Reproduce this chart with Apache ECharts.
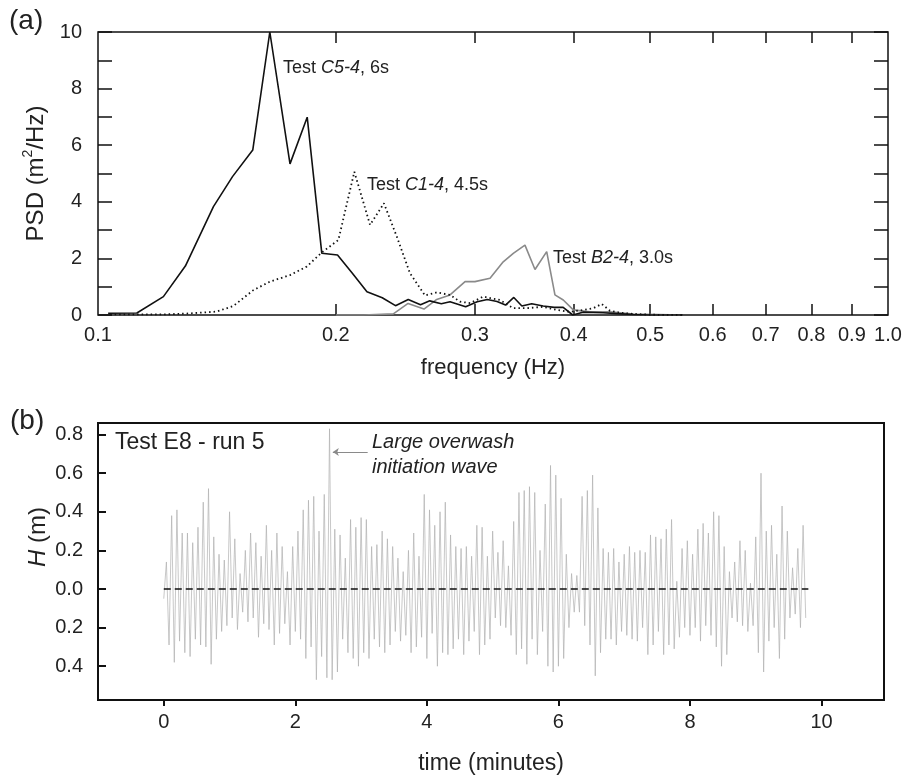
<!DOCTYPE html>
<html>
<head>
<meta charset="utf-8">
<script src="https://cdn.jsdelivr.net/npm/echarts@6/dist/echarts.min.js"></script>
<style>
html,body{margin:0;padding:0;background:#fff;}
#chart{width:909px;height:780px;}
</style>
</head>
<body>
<div id="chart"></div>
<script>
// ---------- Panel (a): power spectral density ----------
const c54Freq = [0.103,0.112,0.121,0.129,0.140,0.148,0.157,0.165,0.175,0.184,0.192,0.201,0.210,0.219,0.229,0.238,0.247,0.256,0.263,0.272,0.279,0.292,0.302,0.311,0.320,0.328,0.336,0.344,0.354,0.366,0.378,0.388,0.399,0.411,0.436,0.454,0.476,0.500,0.550];
const c54Psd  = [0.06,0.07,0.65,1.73,3.83,4.89,5.83,10.0,5.34,6.99,2.18,2.12,1.47,0.82,0.61,0.33,0.55,0.36,0.50,0.40,0.47,0.29,0.47,0.55,0.48,0.35,0.62,0.32,0.40,0.32,0.27,0.27,0.0,0.10,0.08,0.05,0.02,0.0,0.0];

const c14Freq = [0.1036,0.113,0.1208,0.1295,0.1413,0.1484,0.1573,0.1651,0.1750,0.1837,0.1920,0.2015,0.2111,0.2210,0.2301,0.2389,0.2483,0.2594,0.2684,0.2790,0.2872,0.2960,0.3074,0.3135,0.3227,0.3355,0.3488,0.3661,0.3807,0.3958,0.4114,0.4236,0.4341,0.4447,0.4579,0.4761,0.4997,0.55];
const c14Psd  = [0.02,0.02,0.02,0.05,0.12,0.32,0.88,1.18,1.41,1.71,2.21,2.65,5.06,3.18,3.95,2.77,1.47,0.69,0.80,0.71,0.47,0.42,0.65,0.60,0.53,0.24,0.24,0.29,0.18,0.11,0.18,0.24,0.39,0.15,0.08,0.04,0.01,0.0];

const b24Freq = [0.2000,0.2167,0.2365,0.2469,0.2586,0.2684,0.2790,0.2915,0.3000,0.3135,0.3258,0.3355,0.3471,0.3574,0.3698,0.3788,0.3881,0.3996,0.4195,0.4447,0.4760,0.55];
const b24Psd  = [0.0,0.0,0.04,0.41,0.21,0.55,0.71,1.18,1.18,1.30,1.88,2.18,2.47,1.61,2.24,0.71,0.53,0.18,0.11,0.11,0.03,0.0];

const freqTickValues  = [0.2,0.3,0.4,0.5,0.6,0.7,0.8,0.9];
const freqLabelValues = [0.1,0.2,0.3,0.4,0.5,0.6,0.7,0.8,0.9,1.0];

// ---------- Panel (b): wave height time series (Test E8 - run 5) ----------
const waveStepMin = 0.08;   // minutes between successive troughs
const crestH = [0.14,0.38,0.41,0.29,0.29,0.24,0.32,0.45,0.52,0.27,
  0.18,0.15,0.40,0.26,0.08,0.20,0.29,0.24,0.17,0.33,
  0.20,0.29,0.22,0.09,0.22,0.30,0.41,0.46,0.48,0.30,
  0.49,0.83,0.31,0.28,0.16,0.36,0.32,0.37,0.36,0.22,
  0.23,0.30,0.26,0.22,0.16,0.09,0.20,0.29,0.17,0.49,
  0.41,0.33,0.40,0.45,0.28,0.22,0.21,0.22,0.17,0.33,
  0.32,0.17,0.30,0.19,0.25,0.12,0.35,0.50,0.51,0.53,
  0.50,0.20,0.44,0.64,0.59,0.47,0.18,0.08,0.07,0.48,
  0.51,0.59,0.42,0.21,0.19,0.21,0.14,0.18,0.22,0.19,
  0.20,0.19,0.28,0.27,0.26,0.31,0.36,0.04,0.21,0.25,
  0.18,0.31,0.34,0.29,0.40,0.38,0.22,0.09,0.14,0.25,
  0.20,0.03,0.27,0.60,0.30,0.33,0.18,0.43,0.30,0.11,
  0.21,0.33];
const troughH = [-0.05,-0.29,-0.38,-0.27,-0.33,-0.35,-0.26,-0.29,-0.30,-0.39,
  -0.26,-0.22,-0.19,-0.15,-0.21,-0.12,-0.17,-0.15,-0.25,-0.18,
  -0.21,-0.29,-0.23,-0.18,-0.29,-0.22,-0.26,-0.36,-0.30,-0.47,
  -0.35,-0.46,-0.47,-0.43,-0.26,-0.33,-0.36,-0.40,-0.33,-0.36,
  -0.26,-0.30,-0.33,-0.29,-0.22,-0.27,-0.24,-0.33,-0.30,-0.25,
  -0.36,-0.23,-0.40,-0.33,-0.34,-0.31,-0.26,-0.34,-0.27,-0.22,
  -0.34,-0.29,-0.26,-0.15,-0.19,-0.20,-0.24,-0.34,-0.31,-0.39,
  -0.26,-0.34,-0.22,-0.40,-0.43,-0.40,-0.36,-0.20,-0.12,-0.12,
  -0.19,-0.29,-0.45,-0.33,-0.26,-0.26,-0.29,-0.22,-0.24,-0.26,
  -0.27,-0.20,-0.34,-0.29,-0.22,-0.34,-0.29,-0.31,-0.25,-0.20,
  -0.24,-0.20,-0.27,-0.19,-0.24,-0.30,-0.40,-0.34,-0.15,-0.17,
  -0.19,-0.22,-0.19,-0.33,-0.43,-0.27,-0.20,-0.36,-0.26,-0.15,
  -0.13,-0.20,-0.15];
const zeroLineTime = [0, 9.8];
const zeroLineH = [0, 0];
const timeTickValues = [0,2,4,6,8,10];
const hTickValues = [-0.4,-0.2,0,0.2,0.4,0.6,0.8];
const arrowFrom = [3.1, 0.71];
const arrowTo = [2.57, 0.71];

// ---------- build ----------
const FONT = 'Liberation Sans, Arial, Helvetica, sans-serif';
const TXT = '#222';
const pairs = (xs, ys) => xs.map((x, i) => [x, ys[i]]);
const elevation = [];
for (let i = 0; i < troughH.length; i++) {
  elevation.push([i * waveStepMin, troughH[i]]);
  if (i < crestH.length) elevation.push([i * waveStepMin + waveStepMin / 2, crestH[i]]);
}

const chart = echarts.init(document.getElementById('chart'), null, {renderer: 'canvas'});
const tickStyle = {color: '#111', width: 1.5};
const noLine = {show: false, onZero: false};

const option = {
  animation: false,
  backgroundColor: '#fff',
  textStyle: {fontFamily: FONT, color: TXT},
  grid: [
    {left: 98, top: 32, right: 21, bottom: 465, show: true, borderColor: '#111', borderWidth: 1.5, backgroundColor: 'transparent'},
    {left: 98, top: 423, right: 25, bottom: 80, show: true, borderColor: '#111', borderWidth: 2, backgroundColor: 'transparent'}
  ],
  xAxis: [
    {
      type: 'log', logBase: 10, gridIndex: 0, min: 0.1, max: 1, position: 'bottom',
      axisLine: noLine, splitLine: {show: false},
      axisTick: {show: true, inside: true, length: 11, customValues: freqTickValues, lineStyle: tickStyle},
      axisLabel: {show: true, customValues: freqLabelValues, formatter: v => Number(v).toFixed(1), margin: 10, fontSize: 20, color: TXT, fontFamily: FONT},
      name: 'frequency (Hz)', nameLocation: 'middle', nameGap: 42,
      nameTextStyle: {fontSize: 22, color: TXT, fontFamily: FONT}
    },
    {
      type: 'log', logBase: 10, gridIndex: 0, min: 0.1, max: 1, position: 'top',
      axisLine: noLine, splitLine: {show: false},
      axisTick: {show: true, inside: true, length: 11, customValues: freqTickValues, lineStyle: tickStyle},
      axisLabel: {show: false}
    },
    {
      type: 'value', gridIndex: 1, min: -1, max: 10.95, position: 'bottom',
      axisLine: noLine, splitLine: {show: false},
      axisTick: {show: true, inside: false, length: 6, customValues: timeTickValues, lineStyle: {color: '#111', width: 2}},
      axisLabel: {customValues: timeTickValues, margin: 12, fontSize: 20, color: TXT, fontFamily: FONT},
      name: 'time (minutes)', nameLocation: 'middle', nameGap: 52,
      nameTextStyle: {fontSize: 23, color: TXT, fontFamily: FONT}
    }
  ],
  yAxis: [
    {
      type: 'value', gridIndex: 0, min: 0, max: 10, interval: 1, position: 'left',
      axisLine: noLine, splitLine: {show: false},
      axisTick: {show: true, inside: true, length: 14, lineStyle: tickStyle},
      axisLabel: {formatter: v => (v % 2 === 0 ? String(v) : ''), margin: 16, fontSize: 20, color: TXT, fontFamily: FONT},
      name: '{n|PSD (m}{s|2}{n|/Hz)}', nameLocation: 'middle', nameGap: 46,
      nameTextStyle: {
        color: TXT, fontFamily: FONT,
        rich: {
          n: {fontSize: 24, lineHeight: 28, color: TXT, fontFamily: FONT, verticalAlign: 'bottom'},
          s: {fontSize: 14, lineHeight: 14, color: TXT, fontFamily: FONT, verticalAlign: 'top'}
        }
      }
    },
    {
      type: 'value', gridIndex: 0, min: 0, max: 10, interval: 1, position: 'right',
      axisLine: noLine, splitLine: {show: false},
      axisTick: {show: true, inside: true, length: 14, lineStyle: tickStyle},
      axisLabel: {show: false}
    },
    {
      type: 'value', gridIndex: 1, min: -0.575, max: 0.86, position: 'left',
      axisLine: noLine, splitLine: {show: false},
      axisTick: {show: true, inside: true, length: 8, customValues: hTickValues, lineStyle: {color: '#111', width: 2}},
      axisLabel: {customValues: hTickValues, formatter: v => Math.abs(v).toFixed(1), margin: 15, fontSize: 20, color: TXT, fontFamily: FONT}
    }
  ],
  series: [
    {
      name: 'B2-4', type: 'line', xAxisIndex: 0, yAxisIndex: 0, symbol: 'none',
      data: pairs(b24Freq, b24Psd), lineStyle: {color: '#8a8a8a', width: 1.6}, z: 2
    },
    {
      name: 'C1-4', type: 'line', xAxisIndex: 0, yAxisIndex: 0, symbol: 'none',
      data: pairs(c14Freq, c14Psd), lineStyle: {color: '#111', width: 1.8, type: [1.5, 3]}, z: 3
    },
    {
      name: 'C5-4', type: 'line', xAxisIndex: 0, yAxisIndex: 0, symbol: 'none',
      data: pairs(c54Freq, c54Psd), lineStyle: {color: '#111', width: 1.6}, z: 4
    },
    {
      name: 'E8 run 5', type: 'line', xAxisIndex: 2, yAxisIndex: 2, symbol: 'none',
      data: elevation, lineStyle: {color: '#b0b0b0', width: 0.7}, z: 2,
      markLine: {
        silent: true, symbol: ['none', 'arrow'], symbolSize: [6, 6],
        label: {show: false},
        lineStyle: {color: '#8a8a8a', width: 1, type: 'solid'},
        data: [[{coord: arrowFrom}, {coord: arrowTo}]]
      }
    },
    {
      name: 'zero', type: 'line', xAxisIndex: 2, yAxisIndex: 2, symbol: 'none',
      data: pairs(zeroLineTime, zeroLineH), lineStyle: {color: '#111', width: 1.6, type: [7, 4]}, z: 5
    }
  ],
  graphic: [
    {type: 'text', x: 9, y: 21, style: {text: '(a)', fontSize: 28, fontFamily: FONT, fill: TXT, verticalAlign: 'middle'}},
    {type: 'text', x: 10, y: 421, style: {text: '(b)', fontSize: 28, fontFamily: FONT, fill: TXT, verticalAlign: 'middle'}},
    {type: 'text', x: 283, y: 68, style: {text: '{n|Test }{i|C5-4}{n|, 6s}', verticalAlign: 'middle', fill: TXT,
      rich: {n: {fontSize: 18, fontFamily: FONT, fill: TXT}, i: {fontSize: 18, fontFamily: FONT, fontStyle: 'italic', fill: TXT}}}},
    {type: 'text', x: 367, y: 185, style: {text: '{n|Test }{i|C1-4}{n|, 4.5s}', verticalAlign: 'middle', fill: TXT,
      rich: {n: {fontSize: 18, fontFamily: FONT, fill: TXT}, i: {fontSize: 18, fontFamily: FONT, fontStyle: 'italic', fill: TXT}}}},
    {type: 'text', x: 553, y: 258, style: {text: '{n|Test }{i|B2-4}{n|, 3.0s}', verticalAlign: 'middle', fill: TXT,
      rich: {n: {fontSize: 18, fontFamily: FONT, fill: TXT}, i: {fontSize: 18, fontFamily: FONT, fontStyle: 'italic', fill: TXT}}}},
    {type: 'text', x: 115, y: 443, style: {text: 'Test E8 - run 5', fontSize: 23, fontFamily: FONT, fill: TXT, verticalAlign: 'middle'}},
    {type: 'text', x: 372, y: 442, style: {text: 'Large overwash', fontSize: 20, fontStyle: 'italic', fontFamily: FONT, fill: TXT, verticalAlign: 'middle'}},
    {type: 'text', x: 372, y: 467, style: {text: 'initiation wave', fontSize: 20, fontStyle: 'italic', fontFamily: FONT, fill: TXT, verticalAlign: 'middle'}},
    {type: 'text', x: 38, y: 537, rotation: Math.PI / 2, style: {text: '{i|H}{n| (m)}', align: 'center', verticalAlign: 'middle', fill: TXT,
      rich: {n: {fontSize: 24, fontFamily: FONT, fill: TXT}, i: {fontSize: 24, fontFamily: FONT, fontStyle: 'italic', fill: TXT}}}}
  ]
};
chart.setOption(option);
</script>
</body>
</html>
